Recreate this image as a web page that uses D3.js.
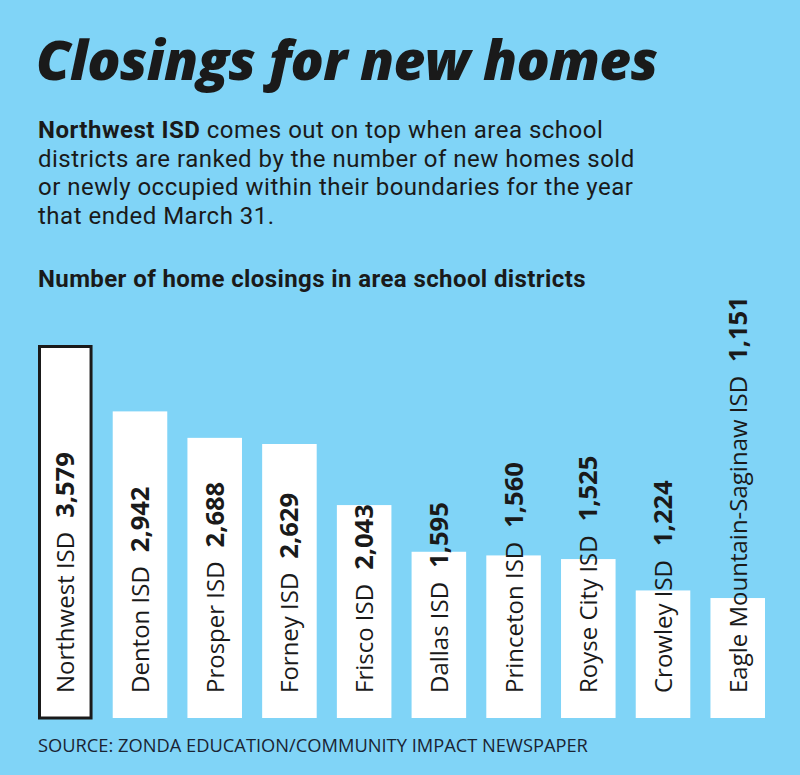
<!DOCTYPE html>
<html>
<head>
<meta charset="utf-8">
<script src="https://cdn.jsdelivr.net/npm/d3@7"></script>
<style>
  body { margin: 0; background: #80d4f7; }
  svg { display: block; }
</style>
</head>
<body>
<svg id="svg" width="800" height="775"></svg>
<script>
    var districts = ['Northwest ISD', 'Denton ISD', 'Prosper ISD', 'Forney ISD', 'Frisco ISD',
        'Dallas ISD', 'Princeton ISD', 'Royse City ISD', 'Crowley ISD', 'Eagle Mountain-Saginaw ISD'];
    var closings = [3579, 2942, 2688, 2629, 2043, 1595, 1560, 1525, 1224, 1151];
    var introLines = [
        'comes out on top when area school',
        'districts are ranked by the number of new homes sold',
        'or newly occupied within their boundaries for the year',
        'that ended March 31.'
    ];

    var svg = d3.select("#svg"),
        width = +svg.attr("width"),
        height = +svg.attr("height");
    var ink = '#1a1a1a';

    svg.append("rect")
        .attr("width", width).attr("height", height)
        .attr("fill", "#80d4f7");

    // titre
    svg.append("text")
        .attr("x", 36).attr("y", 80)
        .style("font-family", "'Open Sans', sans-serif")
        .style("font-weight", 800)
        .style("font-style", "italic")
        .style("font-size", "55px")
        .style("letter-spacing", "-0.7px")
        .attr("fill", ink)
        .text("Closings for new homes");

    var intro = svg.append("g")
        .style("font-family", "Roboto, sans-serif")
        .style("font-size", "24px")
        .style("letter-spacing", "0.5px")
        .attr("fill", ink);
    introLines.forEach(function (line, i) {
        var t = intro.append("text")
            .attr("x", 38).attr("y", 138 + i * 28.7);
        if (i == 0) {
            t.append("tspan").style("font-weight", 700).text("Northwest ISD ");
        }
        t.append("tspan").text(line);
    });

    svg.append("text")
        .attr("x", 38).attr("y", 287)
        .style("font-family", "Roboto, sans-serif")
        .style("font-weight", 700)
        .style("font-size", "24px")
        .style("letter-spacing", "0.4px")
        .attr("fill", ink)
        .text("Number of home closings in area school districts");

    var x = d3.scaleBand()
        .domain(districts)
        .range([38, 765])
        .paddingInner(0.27)
        .paddingOuter(0);
    var y = d3.scaleLinear()
        .domain([0, d3.max(closings)])
        .range([718, 345]);

    var data = districts.map(function (d, i) {
        return {name: d, value: closings[i], index: i};
    });

    var bar = svg.selectAll(".bar")
        .data(data)
        .enter().append("g")
        .attr("class", "bar");

    bar.append("rect")
        .attr("x", function (d) { return x(d.name) + (d.index == 0 ? 1.5 : 0); })
        .attr("y", function (d) { return y(d.value) + (d.index == 0 ? 1.5 : 0); })
        .attr("width", function (d) { return x.bandwidth() - (d.index == 0 ? 3 : 0); })
        .attr("height", function (d) { return y(0) - y(d.value) - (d.index == 0 ? 1.5 : 0); })
        .attr("fill", "#fff")
        .attr("stroke", function (d) { return d.index == 0 ? ink : "none"; })
        .attr("stroke-width", 3);

    var label = bar.append("text")
        .attr("transform", function (d) {
            return "translate(" + (x(d.name) + x.bandwidth() / 2 + 9) + ",693) rotate(-90)";
        })
        .style("font-family", "'Open Sans', sans-serif")
        .style("font-size", "24px")
        .attr("fill", ink);
    label.append("tspan")
        .text(function (d) { return d.name; });
    label.append("tspan")
        .attr("dx", 14)
        .style("font-weight", 700)
        .style("font-size", "25.5px")
        .text(function (d) { return d3.format(",")(d.value); });

    svg.append("text")
        .attr("x", 38).attr("y", 752)
        .style("font-family", "'Open Sans', sans-serif")
        .style("font-size", "18.3px")
        .attr("fill", "#1a2433")
        .text("SOURCE: ZONDA EDUCATION/COMMUNITY IMPACT NEWSPAPER");
</script>
</body>
</html>
